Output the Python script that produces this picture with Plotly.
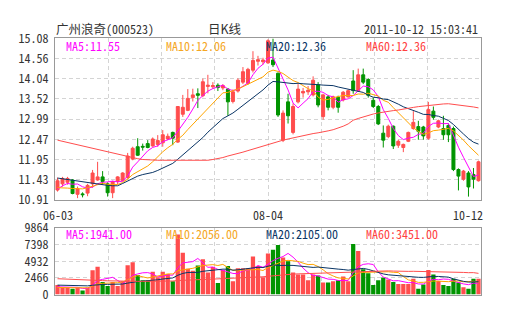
import plotly.graph_objects as go
import pandas as pd

# ---------------- data ----------------
stock_title = "广州浪奇"
stock_code = "(000523)"
chart_kind = "日K线"
timestamp = "2011-10-12 15:03:41"
date_labels = ["06-03", "08-04", "10-12"]
date_label_idx = [0, 42, 84]
price_ticks = ["10.91", "11.43", "11.95", "12.47", "12.99", "13.52", "14.04", "14.56", "15.08"]
volume_ticks = ["0", "2466", "4932", "7398", "9864"]
price_ma_names = ["MA5", "MA10", "MA20", "MA60"]
price_ma_values = ["11.55", "12.06", "12.36", "12.36"]
volume_ma_values = ["1941.00", "2056.00", "2105.00", "3451.00"]

opens = [11.16, 11.32, 11.36, 11.42, 11.05, 11.06, 11.08, 11.32, 11.42, 11.50,
         11.32, 11.09, 11.38, 11.40, 11.48, 11.96, 12.28, 12.29, 12.36, 12.30,
         12.34, 12.38, 12.48, 12.65, 12.40, 13.12, 13.22, 13.55, 13.65, 13.60,
         13.84, 13.83, 13.87, 13.80, 13.77, 13.45, 13.72, 13.95, 13.92, 14.26,
         14.49, 14.48, 14.45, 14.52, 14.18, 12.45, 13.44, 12.65, 13.44, 13.67,
         13.70, 13.62, 13.88, 13.06, 13.57, 13.30, 13.56, 13.49, 13.57, 13.98,
         13.73, 14.14, 14.02, 13.48, 13.32, 12.63, 12.54, 12.81, 12.32, 12.26,
         12.42, 12.75, 12.80, 12.79, 12.50, 13.20, 12.79, 12.75, 12.83, 12.75,
         11.69, 11.44, 11.60, 11.56, 11.40]
highs = [11.48, 11.50, 11.50, 11.44, 11.25, 11.10, 11.32, 11.68, 11.89, 11.65,
         11.36, 11.40, 11.52, 11.62, 12.12, 12.28, 12.50, 12.36, 12.45, 12.52,
         12.58, 12.71, 12.62, 12.67, 13.33, 13.62, 13.77, 13.78, 13.79, 14.04,
         14.14, 13.95, 13.92, 13.90, 13.80, 13.76, 14.05, 14.34, 14.32, 14.75,
         14.63, 14.58, 15.06, 15.08, 14.20, 13.22, 13.65, 13.40, 13.90, 13.80,
         13.85, 14.10, 13.95, 13.65, 13.62, 13.60, 13.60, 13.72, 13.76, 14.26,
         14.30, 14.30, 14.05, 13.55, 13.36, 12.83, 12.85, 12.83, 12.46, 12.36,
         12.67, 13.20, 12.95, 12.82, 13.44, 13.32, 12.98, 13.08, 12.88, 12.80,
         11.72, 11.68, 11.65, 11.73, 11.92]
lows = [11.12, 11.25, 11.30, 11.05, 10.95, 10.97, 11.00, 11.22, 11.40, 11.30,
        10.99, 10.95, 11.30, 11.38, 11.45, 11.93, 12.04, 12.18, 12.24, 12.28,
        12.28, 12.28, 12.45, 12.32, 12.38, 13.05, 13.20, 13.45, 13.28, 13.56,
        13.66, 13.78, 13.72, 13.74, 13.08, 13.40, 13.68, 13.90, 13.88, 14.20,
        14.38, 14.40, 14.42, 14.34, 13.05, 12.40, 12.88, 12.60, 13.40, 13.55,
        13.62, 13.58, 13.30, 12.98, 13.22, 13.25, 13.16, 13.45, 13.55, 13.65,
        13.70, 13.90, 13.55, 13.28, 12.84, 12.26, 12.50, 12.22, 12.25, 12.14,
        12.40, 12.72, 12.46, 12.46, 12.46, 12.98, 12.76, 12.46, 12.40, 11.65,
        11.15, 11.40, 10.99, 11.20, 11.38]
closes = [11.40, 11.46, 11.46, 11.07, 11.19, 11.04, 11.28, 11.60, 11.50, 11.38,
          11.09, 11.38, 11.50, 11.60, 12.04, 12.24, 12.06, 12.27, 12.26, 12.48,
          12.44, 12.59, 12.55, 12.50, 13.32, 13.30, 13.53, 13.62, 13.61, 13.96,
          13.87, 13.86, 13.81, 13.86, 13.44, 13.70, 14.00, 14.22, 14.28, 14.51,
          14.53, 14.52, 15.02, 14.40, 13.10, 13.15, 13.08, 13.32, 13.77, 13.71,
          13.74, 14.00, 13.36, 13.62, 13.30, 13.57, 13.30, 13.69, 13.73, 13.73,
          14.14, 13.95, 13.61, 13.32, 12.87, 12.45, 12.81, 12.30, 12.42, 12.34,
          12.65, 12.91, 12.68, 12.56, 13.24, 13.04, 12.95, 12.59, 12.59, 11.69,
          11.52, 11.65, 11.24, 11.44, 11.89]
volumes = [1400, 1030, 1030, 845, 1030, 610, 1030, 3620, 4130, 1880,
           1270, 1880, 1270, 1970, 4370, 4790, 2910, 2110, 2110, 3380,
           2580, 3380, 3050, 1970, 8920, 6200, 3850, 3520, 4320, 5260,
           3290, 4080, 1730, 3660, 4230, 1970, 3900, 3900, 3900, 5640,
           4230, 2580, 6110, 6670, 7370, 5500, 4930, 3290, 2960, 2960,
           2110, 2960, 2820, 1780, 1780, 1970, 2110, 2680, 1970, 7510,
           6480, 3760, 3150, 1410, 2110, 2540, 2250, 1880, 1550, 1550,
           1550, 2350, 845, 1500, 3660, 2960, 2020, 1410, 1270, 2350,
           1780, 1080, 845, 2350, 2350]

# moving-average values at the left edge (earlier history is not in the data)
ma5_head = [11.18, 11.27, 11.33, 11.31]
ma10_head = [11.22, 11.22, 11.21, 11.20, 11.19, 11.19, 11.22, 11.26, 11.30]
ma20_head = [11.47, 11.45, 11.43, 11.41, 11.39, 11.37, 11.35, 11.33, 11.31, 11.30,
             11.28, 11.27, 11.27, 11.33, 11.40, 11.46, 11.52, 11.56, 11.59]
ma60_head = [12.45, 12.42, 12.39, 12.36, 12.33, 12.30, 12.27, 12.24, 12.21, 12.18,
             12.15, 12.12, 12.08, 12.05, 12.02, 11.99, 11.97, 11.95, 11.94, 11.93,
             11.93, 11.93, 11.93, 11.93, 11.93, 11.93, 11.93, 11.93, 11.93, 11.93,
             11.93, 11.95, 11.97, 12.00, 12.04, 12.07, 12.10, 12.14, 12.18, 12.22,
             12.26, 12.30, 12.34, 12.38, 12.42, 12.45, 12.48, 12.51, 12.54, 12.57,
             12.60, 12.62, 12.64, 12.66, 12.69, 12.72, 12.76, 12.81, 12.87]
vma5_head = [1150, 1120, 1090, 1060]
vma10_head = [1050, 1050, 1040, 1030, 1020, 990, 990, 1260, 1570]
vma20_head = [1400, 1380, 1350, 1320, 1300, 1280, 1290, 1380, 1480, 1500,
              1510, 1530, 1540, 1560, 1700, 1850, 1930, 1990, 2040]
vma60_head = [2350, 2330, 2300, 2270, 2240, 2200, 2170, 2140, 2100, 2070,
              2040, 2010, 1990, 1970, 1960, 1960, 1960, 1960, 1960, 1970,
              1980, 1990, 2000, 2010, 2080, 2130, 2160, 2180, 2200, 2240,
              2260, 2290, 2300, 2330, 2370, 2380, 2420, 2460, 2500, 2560,
              2610, 2640, 2710, 2790, 2880, 2950, 3010, 3040, 3070, 3090,
              3100, 3120, 3130, 3140, 3150, 3170, 3190, 3210, 3230]


def moving_average(values, n, head):
    rolled = pd.Series(values, dtype=float).rolling(n).mean().tolist()
    return list(head) + rolled[len(head):]


idx = list(range(len(closes)))
price_mas = [moving_average(closes, 5, ma5_head), moving_average(closes, 10, ma10_head),
             moving_average(closes, 20, ma20_head), moving_average(closes, 60, ma60_head)]
volume_mas = [moving_average(volumes, 5, vma5_head), moving_average(volumes, 10, vma10_head),
              moving_average(volumes, 20, vma20_head), moving_average(volumes, 60, vma60_head)]

# ---------------- style ----------------
W, H = 505, 330
RED = "#ff4d4d"
GREEN = "#009400"
MA_COLORS = ["#ff00ff", "#ffa500", "#0a3565", "#ff4d4d"]
MA_TEXT_COLORS = ["#ff00ff", "#f5a623", "#0a3565", "#ff4040"]
GRID = "#d4d4d4"
FRAME = "#999999"
TEXT = "#333333"
MONO = "Noto Sans Mono CJK SC, Liberation Mono, monospace"

L, R = 55, 481
PT, PB = 30, 200
VT, VB = 230, 300


def px(x):
    return x / W


def py(y):
    return 1 - y / H


fig = go.Figure()
fig.add_trace(go.Candlestick(
    x=idx, open=opens, high=highs, low=lows, close=closes,
    increasing=dict(line=dict(color=RED, width=1), fillcolor=RED),
    decreasing=dict(line=dict(color=GREEN, width=1), fillcolor=GREEN),
    whiskerwidth=0, xaxis="x", yaxis="y", hoverinfo="skip"))
for ma, col in zip(price_mas, MA_COLORS):
    fig.add_trace(go.Scatter(x=idx, y=ma, mode="lines", line=dict(color=col, width=1),
                             xaxis="x", yaxis="y", hoverinfo="skip"))

bar_colors = [RED if c >= o else GREEN for o, c in zip(opens, closes)]
fig.add_trace(go.Bar(x=idx, y=volumes, marker=dict(color=bar_colors, line=dict(width=0)),
                     xaxis="x2", yaxis="y2", hoverinfo="skip"))
for ma, col in zip(volume_mas, MA_COLORS):
    fig.add_trace(go.Scatter(x=idx, y=ma, mode="lines", line=dict(color=col, width=1),
                             xaxis="x2", yaxis="y2", hoverinfo="skip"))

n = len(closes)
xgrid = [-0.5 + n * k / 8 for k in range(1, 8)]
common_x = dict(range=[-0.5, n - 0.5], tickvals=xgrid, showticklabels=False, ticks="",
                showgrid=True, gridcolor=GRID, griddash="4px,3px", gridwidth=1,
                showline=True, mirror=True, linecolor=FRAME, linewidth=1,
                zeroline=False, fixedrange=True, domain=[px(L), px(R)])
common_y = dict(showgrid=True, gridcolor=GRID, griddash="4px,3px", gridwidth=1,
                showline=True, mirror=True, linecolor=FRAME, linewidth=1,
                zeroline=False, ticks="", fixedrange=True,
                tickfont=dict(family=MONO, size=12, color=TEXT), ticklabelstandoff=3)

fig.update_layout(
    width=W, height=H, margin=dict(l=0, r=0, t=0, b=0),
    paper_bgcolor="white", plot_bgcolor="white", showlegend=False,
    boxgap=0.15, bargap=0.15,
    xaxis=dict(anchor="y", rangeslider=dict(visible=False), **common_x),
    xaxis2=dict(anchor="y2", **common_x),
    yaxis=dict(domain=[py(PB), py(PT)], range=[float(price_ticks[0]), float(price_ticks[-1])],
               tickvals=[float(t) for t in price_ticks], ticktext=price_ticks, **common_y),
    yaxis2=dict(domain=[py(VB), py(VT)], range=[0, float(volume_ticks[-1])],
                tickvals=[float(t) for t in volume_ticks], ticktext=volume_ticks, **common_y),
)

ann = []
ann.append(dict(text='<span style="font-size:12.5px">' + stock_title + '</span>' + stock_code,
                x=px(L), y=py(20), xanchor="left", yanchor="middle",
                font=dict(family=MONO, size=12, color=TEXT)))
ann.append(dict(text=chart_kind, x=px(225), y=py(20), xanchor="center", yanchor="middle",
                font=dict(family="Noto Sans CJK SC", size=12.5, color=TEXT)))
ann.append(dict(text=timestamp, x=px(479), y=py(19.5), xanchor="right", yanchor="middle",
                font=dict(family=MONO, size=12, color=TEXT)))
for k, (name, val) in enumerate(zip(price_ma_names, price_ma_values)):
    ann.append(dict(text=f"{name}:{val}", x=px(65 + 100 * k), y=py(37), xanchor="left",
                    yanchor="middle", font=dict(family=MONO, size=12, color=MA_TEXT_COLORS[k])))
for k, (name, val) in enumerate(zip(price_ma_names, volume_ma_values)):
    ann.append(dict(text=f"{name}:{val}", x=px(65 + 100 * k), y=py(235.5), xanchor="left",
                    yanchor="middle", font=dict(family=MONO, size=12, color=MA_TEXT_COLORS[k])))
for k, (lab, i) in enumerate(zip(date_labels, date_label_idx)):
    last = k == len(date_labels) - 1
    ann.append(dict(text=lab, x=i, xref="x", y=py(216), yref="paper",
                    xanchor="right" if last else "center", xshift=6 if last else 0,
                    yanchor="middle", font=dict(family=MONO, size=12, color=TEXT)))
for a in ann:
    a.setdefault("xref", "paper")
    a.setdefault("yref", "paper")
    a["showarrow"] = False
    a["borderpad"] = 0
fig.update_layout(annotations=ann)

fig.write_html("out.html")
